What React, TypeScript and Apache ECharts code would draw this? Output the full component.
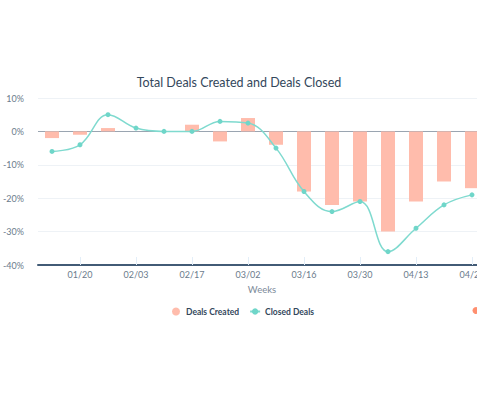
import React, { useEffect, useRef } from "react";
import * as echarts from "echarts";

const categories = [
  "01/13", "01/20", "01/27", "02/03", "02/10", "02/17", "02/24", "03/02",
  "03/09", "03/16", "03/23", "03/30", "04/06", "04/13", "04/20", "04/27",
];
const dealsCreated = [-2, -1, 1, 0, 0, 2, -3, 4, -4, -18, -22, -21, -30, -21, -15, -17];
const closedDeals = [-6, -4, 5, 1, 0, 0, 3, 2.5, -5, -18, -24, -21, -36, -29, -22, -19];

const FONT = "Lato, 'Open Sans', sans-serif";
const GRID = "#eef2f6";

export default function App() {
  const ref = useRef<HTMLDivElement>(null);
  useEffect(() => {
    if (!ref.current) return;
    const chart = echarts.init(ref.current, null, { renderer: "svg" });
    chart.setOption({
      animation: false,
      backgroundColor: "#ffffff",
      title: {
        text: "Total Deals Created and Deals Closed",
        left: 234,
        textAlign: "center",
        top: 71,
        textStyle: { fontFamily: FONT, fontSize: 12.5, fontWeight: "normal", color: "#33475b" },
      },
      grid: { left: 32.5, right: 40, top: 98, bottom: 133 },
      legend: {
        left: 167,
        top: 302,
        itemWidth: 10,
        itemHeight: 8,
        itemGap: 10,
        textStyle: { fontFamily: FONT, fontSize: 8.5, fontWeight: "bold", color: "#33475b" },
        data: [
          { name: "Deals Created", icon: "circle" },
          { name: "Closed Deals" },
        ],
      },
      xAxis: {
        type: "category",
        data: categories,
        name: "Weeks",
        nameLocation: "middle",
        nameGap: 19,
        nameTextStyle: { fontFamily: FONT, fontSize: 9.5, color: "#7c8a99" },
        axisLine: { onZero: false, lineStyle: { color: "#425b76", width: 2 } },
        axisTick: {
          show: true,
          inside: true,
          length: 8,
          alignWithLabel: true,
          interval: (i: number) => i % 2 === 1,
          lineStyle: { color: "#e3eef8" },
        },
        axisLabel: {
          interval: (i: number) => i % 2 === 1,
          fontFamily: FONT,
          fontSize: 9,
          color: "#6b7b8c",
          margin: 5,
        },
      },
      yAxis: {
        type: "value",
        min: -40,
        max: 10,
        interval: 10,
        axisLine: { show: false },
        axisTick: { show: false },
        axisLabel: {
          formatter: "{value}%",
          fontFamily: FONT,
          fontSize: 9,
          color: "#6b7b8c",
          margin: 14,
        },
        splitLine: { lineStyle: { color: [GRID, GRID, GRID, GRID, "#9aa5b1", GRID] } },
      },
      series: [
        {
          name: "Deals Created",
          type: "bar",
          data: dealsCreated,
          barWidth: 14,
          itemStyle: { color: "#ffbcac" },
        },
        {
          name: "Closed Deals",
          type: "line",
          data: closedDeals,
          smooth: 0.4,
          symbol: "circle",
          symbolSize: 5,
          itemStyle: { color: "#6fd6c9" },
          lineStyle: { color: "#7fdacf", width: 1.5 },
        },
      ],
      graphic: [
        {
          type: "circle",
          shape: { cx: 476, cy: 310.5, r: 3.5 },
          style: { fill: "#ff8f6f" },
        },
      ],
    });
    return () => chart.dispose();
  }, []);
  return (
    <div
      style={{
        position: "fixed",
        left: 0,
        top: 0,
        width: 477,
        height: 398,
        overflow: "hidden",
        background: "#fff",
      }}
    >
      <div ref={ref} style={{ width: 526, height: 398 }} />
    </div>
  );
}
